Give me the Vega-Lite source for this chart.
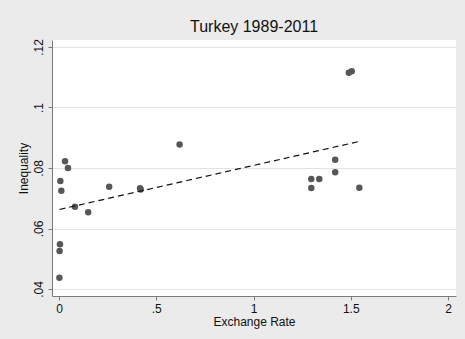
{
  "$schema": "https://vega.github.io/schema/vega-lite/v6.json",
  "width": 404,
  "height": 256,
  "autosize": "none",
  "padding": {"left": 52, "top": 40, "right": 9, "bottom": 43},
  "background": "#ebebeb",
  "title": {"text": "Turkey 1989-2011", "fontSize": 16, "fontWeight": "normal", "font": "Liberation Sans", "color": "#111111", "anchor": "middle", "offset": 4},
  "config": {
    "view": {"fill": "white", "stroke": null},
    "axis": {"labelFont": "Liberation Sans", "titleFont": "Liberation Sans", "labelFontSize": 12, "titleFontSize": 12, "titleFontWeight": "normal", "labelColor": "#111111", "titleColor": "#111111", "domainColor": "#7a7a7a", "tickColor": "#7a7a7a", "tickSize": 4, "labelPadding": 3}
  },
  "data": {"values": [
    {"rate": 0.62, "ineq": 0.0878},
    {"rate": 0.031, "ineq": 0.0822},
    {"rate": 0.046, "ineq": 0.080},
    {"rate": 0.007, "ineq": 0.0757},
    {"rate": 0.012, "ineq": 0.0725},
    {"rate": 0.082, "ineq": 0.0672},
    {"rate": 0.15, "ineq": 0.0654},
    {"rate": 0.258, "ineq": 0.0738},
    {"rate": 0.417, "ineq": 0.0733},
    {"rate": 0.42, "ineq": 0.0729},
    {"rate": 0.005, "ineq": 0.0548},
    {"rate": 0.003, "ineq": 0.0526},
    {"rate": 0.002, "ineq": 0.0437},
    {"rate": 1.49, "ineq": 0.1115},
    {"rate": 1.505, "ineq": 0.112},
    {"rate": 1.42, "ineq": 0.0827},
    {"rate": 1.42, "ineq": 0.0786},
    {"rate": 1.297, "ineq": 0.0764},
    {"rate": 1.338, "ineq": 0.0764},
    {"rate": 1.297, "ineq": 0.0734},
    {"rate": 1.544, "ineq": 0.0735}
  ]},
  "encoding": {
    "x": {"field": "rate", "type": "quantitative", "scale": {"domain": [-0.036, 2.041], "nice": false, "zero": false},
      "axis": {"title": "Exchange Rate", "values": [0, 0.5, 1, 1.5, 2], "grid": false, "format": ".1~f", "labelExpr": "datum.value > 0 && datum.value < 1 ? slice(datum.label, 1) : datum.label", "titlePadding": 2}},
    "y": {"field": "ineq", "type": "quantitative", "scale": {"domain": [0.03769, 0.12231], "nice": false, "zero": false},
      "axis": {"title": "Inequality", "values": [0.04, 0.06, 0.08, 0.1, 0.12], "grid": true, "gridColor": "#e3e3e3", "gridWidth": 1, "labelAngle": -90, "labelAlign": "center", "labelBaseline": "bottom", "format": ".2~f", "labelExpr": "slice(datum.label, 1)", "titlePadding": 2}}
  },
  "layer": [
    {"mark": {"type": "point", "filled": true, "color": "#575757", "opacity": 1, "size": 42, "shape": "circle"}},
    {"transform": [{"regression": "ineq", "on": "rate"}],
     "mark": {"type": "line", "color": "#111111", "strokeDash": [6, 4], "strokeWidth": 1.2}}
  ]
}
